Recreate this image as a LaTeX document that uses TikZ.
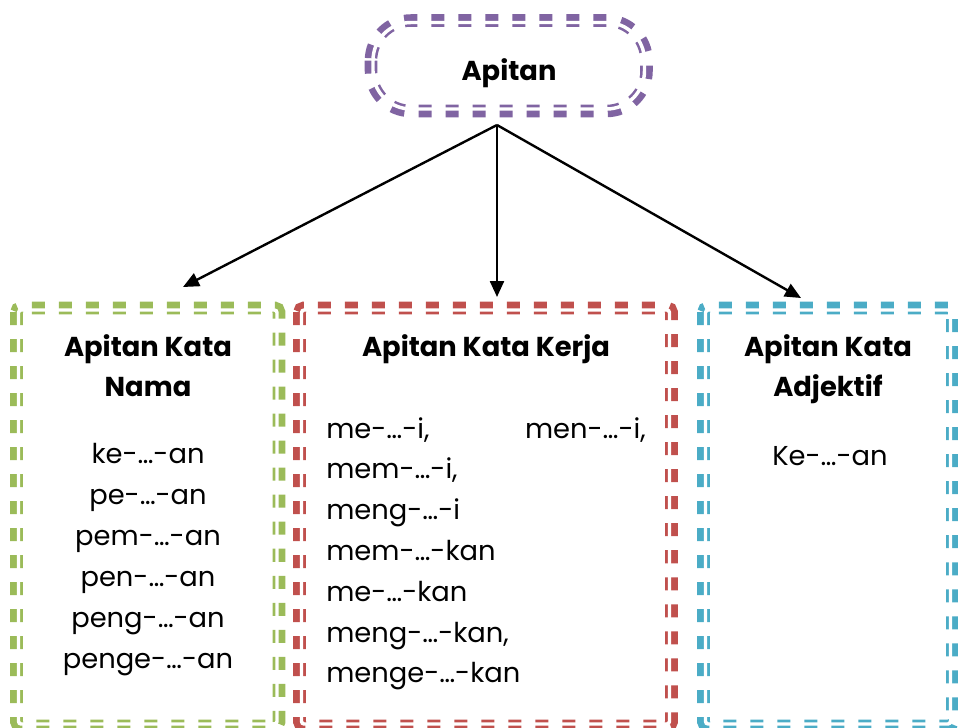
\documentclass[tikz,border=0pt]{standalone}
\usepackage{fontspec}
\setmainfont{Poppins}
\usetikzlibrary{arrows.meta}
\definecolor{kpurple}{HTML}{8064A2}
\definecolor{kgreen}{HTML}{9BBB59}
\definecolor{kred}{HTML}{C0504D}
\definecolor{kblue}{HTML}{4BACC6}
\tikzset{
  band/.style={line width=9.4pt, dash pattern=on 9.75pt off 10.5pt, rounded corners=3pt},
  gapline/.style={white, line width=2.6pt, rounded corners=2pt},
  head/.style={font=\fontsize{20.5}{30}\selectfont\bfseries, align=center, inner sep=0pt, anchor=base},
  body/.style={font=\fontsize{20.5}{30}\selectfont, inner sep=0pt, anchor=base},
  link/.style={line width=1.8pt, -{Triangle[length=12pt,width=10.5pt]}},
}
\begin{document}
\begin{tikzpicture}[x=0.75pt, y=-0.75pt]
                      \useasboundingbox (0,0) rectangle (958,728);
                      \clip (0,0) rectangle (958,728);

                      % top shape, thick and thin dashes made by a white gap line
                      \draw[band, kpurple, rounded corners=30pt] (371,20.5) rectangle (646.5,111);
                      \draw[gapline, rounded corners=28.5pt] (373,22.5) rectangle (644.5,109);
                      \node[head] (apitan) at (509,80) {Apitan};

                      % the three boxes
                      \foreach \col / \xa / \xb in {kgreen/16.5/279, kred/299.5/671.5, kblue/703.5/952.5}
                          {
                              \draw[band, \col] (\xa, 308) rectangle (\xb, 726);
                              \draw[gapline] (\xa+2, 310) rectangle (\xb-2, 724);
                          }

                      \node[head] (nama) at (148,356) {Apitan Kata};
                      \node[head] (nama2) at (148,396) {Nama};
                      \node[head] (kerja) at (486,356) {Apitan Kata Kerja};
                      \node[head] (adjektif) at (828,356) {Apitan Kata};
                      \node[head] (adjektif2) at (828,396) {Adjektif};

                      \foreach \t [count=\i from 0] in {ke-…-an, pe-…-an, pem-…-an, pen-…-an, peng-…-an, penge-…-an}
                          {
                              \node[body] (nama\i) at (148, 463+41*\i) {\t};
                          }

                      \node[body, anchor=base west] (kerja0) at (326,438) {me-…-i,};
                      \node[body, anchor=base east] (kerja0b) at (646,438) {men-…-i,};
                      \foreach \t [count=\i] in {{mem-…-i,}, meng-…-i, mem-…-kan, me-…-kan, {meng-…-kan,}, menge-…-kan}
                          {
                              \node[body, anchor=base west] (kerja\i) at (326, 438+40.8*\i) {\t};
                          }

                      \node[body] (adjektif1) at (830,465) {Ke-…-an};

                      % arrows
                      \coordinate (fork) at (497,125);
                      \coordinate (tonama) at (183,287);
                      \coordinate (tokerja) at (497,297);
                      \coordinate (toadjektif) at (801,298);
                      \draw[link] (fork) -- (tonama);
                      \draw[link] (fork) -- (tokerja);
                      \draw[link] (fork) -- (toadjektif);
                  \end{tikzpicture}
\end{document}
